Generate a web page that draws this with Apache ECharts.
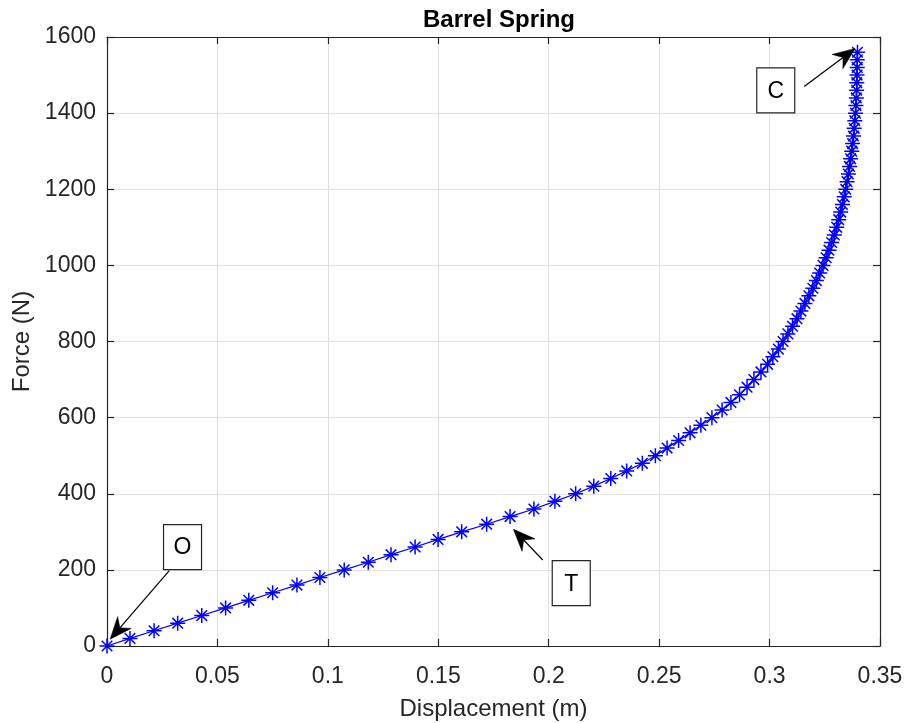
<!DOCTYPE html>
<html><head><meta charset="utf-8">
<script src="https://cdn.jsdelivr.net/npm/echarts@6/dist/echarts.min.js"></script>
<style>html,body{margin:0;padding:0;background:#fff}#c{width:905px;height:723px}</style>
</head><body><div id="c"></div>
<script>
// ---- data ----
const displacement = [
  0.0000, 0.0104, 0.0213, 0.0320, 0.0429, 0.0537, 0.0642, 0.0750, 0.0860, 0.0964,
  0.1074, 0.1183, 0.1286, 0.1395, 0.1499, 0.1606, 0.1719, 0.1825, 0.1933, 0.2028,
  0.2122, 0.2204, 0.2281, 0.2353, 0.2424, 0.2483, 0.2536, 0.2588, 0.2640, 0.2689,
  0.2739, 0.2785, 0.2825, 0.2864, 0.2898, 0.2929, 0.2961, 0.2991, 0.3015, 0.3040,
  0.3061, 0.3083, 0.3104, 0.3124, 0.3142, 0.3160, 0.3178, 0.3196, 0.3212, 0.3227,
  0.3242, 0.3256, 0.3269, 0.3281, 0.3293, 0.3304, 0.3313, 0.3322, 0.3330, 0.3338,
  0.3345, 0.3351, 0.3357, 0.3362, 0.3367, 0.3372, 0.3376, 0.3380, 0.3383, 0.3386,
  0.3389, 0.3391, 0.3393, 0.3394, 0.3395, 0.3396, 0.3397, 0.3397, 0.3398
];
const force = [
  0, 20, 40, 60, 80, 100, 120, 140, 160, 180,
  200, 220, 240, 260, 280, 300, 320, 340, 360, 380,
  400, 420, 440, 460, 480, 500, 520, 540, 560, 580,
  600, 620, 640, 660, 680, 700, 720, 740, 760, 780,
  800, 820, 840, 860, 880, 900, 920, 940, 960, 980,
  1000, 1020, 1040, 1060, 1080, 1100, 1120, 1140, 1160, 1180,
  1200, 1220, 1240, 1260, 1280, 1300, 1320, 1340, 1360, 1380,
  1400, 1420, 1440, 1460, 1480, 1500, 1520, 1540, 1560
];
const xTickValues = [0, 0.05, 0.1, 0.15, 0.2, 0.25, 0.3, 0.35];
const yTickValues = [0, 200, 400, 600, 800, 1000, 1200, 1400, 1600];
const annotLabels = ['O', 'T', 'C'];
const annotBoxCenter = [[0.0342, 260], [0.2102, 165], [0.3028, 1460]];
const annotArrowTail = [[0.0282, 198], [0.1973, 226], [0.3157, 1470]];
const annotArrowHead = [[0.0014, 18], [0.1840, 307], [0.3387, 1570]];

// ---- chart ----
const FONT = '"Liberation Sans", Arial, Helvetica, sans-serif';
const AX = '#262626';
const chart = echarts.init(document.getElementById('c'), null, {renderer: 'canvas'});
const points = displacement.map((d, i) => [d, force[i]]);
const star = 'path://M0,-10L0,10M-10,0L10,0M-7.07,-7.07L7.07,7.07M-7.07,7.07L7.07,-7.07';
const xMin = xTickValues[0], xMax = xTickValues[xTickValues.length - 1];
const yMin = yTickValues[0], yMax = yTickValues[yTickValues.length - 1];
const xInt = xTickValues[1] - xTickValues[0], yInt = yTickValues[1] - yTickValues[0];

const baseX = {
  type: 'value', min: xMin, max: xMax, interval: xInt,
  axisLine: {show: true, onZero: false, lineStyle: {color: AX, width: 1.2}},
  axisTick: {show: true, inside: true, length: 7, lineStyle: {color: AX, width: 1.2}},
  splitLine: {show: false}
};
const baseY = {
  type: 'value', min: yMin, max: yMax, interval: yInt,
  axisLine: {show: true, onZero: false, lineStyle: {color: AX, width: 1.2}},
  axisTick: {show: true, inside: true, length: 7, lineStyle: {color: AX, width: 1.2}},
  splitLine: {show: false}
};

chart.setOption({
  animation: false,
  backgroundColor: '#ffffff',
  title: {
    text: 'Barrel Spring', left: 494, top: 3, textAlign: 'center',
    textStyle: {fontFamily: FONT, fontSize: 24, fontWeight: 'bold', color: '#000'}
  },
  grid: {left: 107, right: 25, top: 37, bottom: 77, containLabel: false, outerBoundsMode: 'none'},
  xAxis: [
    Object.assign({}, baseX, {
      position: 'bottom',
      name: 'Displacement (m)', nameLocation: 'middle', nameGap: 51,
      nameTextStyle: {fontFamily: FONT, fontSize: 24, color: AX},
      axisLabel: {fontFamily: FONT, fontSize: 23, color: AX, margin: 19,
        formatter: v => String(+v.toFixed(2))},
      splitLine: {show: true, lineStyle: {color: '#e0e0e0', width: 1}}
    }),
    Object.assign({}, baseX, {position: 'top', axisLabel: {show: false}})
  ],
  yAxis: [
    Object.assign({}, baseY, {
      position: 'left',
      name: 'Force (N)', nameLocation: 'middle', nameGap: 72,
      nameTextStyle: {fontFamily: FONT, fontSize: 24, color: AX},
      axisLabel: {fontFamily: FONT, fontSize: 23, color: AX, margin: 11,
        formatter: v => String(v)},
      splitLine: {show: true, lineStyle: {color: '#e0e0e0', width: 1}}
    }),
    Object.assign({}, baseY, {position: 'right', axisLabel: {show: false}})
  ],
  series: [{
    type: 'line', data: points, xAxisIndex: 0, yAxisIndex: 0,
    symbol: star, symbolSize: 15, showSymbol: true,
    lineStyle: {color: '#0000ff', width: 1.2},
    itemStyle: {color: '#0000ff', borderColor: '#0000ff', borderWidth: 1.5},
    emphasis: {disabled: true}, z: 3
  }]
});

// ---- annotations (boxes + arrows placed in data coordinates) ----
const BOX_W = 38, BOX_H = 45;
const HEAD_L = 22, HEAD_W = 9, NOTCH = 7;
const els = [];
annotLabels.forEach((lab, i) => {
  const c = chart.convertToPixel({gridIndex: 0}, annotBoxCenter[i]);
  const t = chart.convertToPixel({gridIndex: 0}, annotArrowTail[i]);
  const h = chart.convertToPixel({gridIndex: 0}, annotArrowHead[i]);
  els.push({
    type: 'rect', z: 10,
    shape: {x: c[0] - BOX_W / 2, y: c[1] - BOX_H / 2, width: BOX_W, height: BOX_H},
    style: {fill: '#ffffff', stroke: '#262626', lineWidth: 1.2}
  });
  els.push({
    type: 'text', z: 11, x: c[0], y: c[1] + 1,
    style: {text: lab, fontFamily: FONT, fontSize: 23, fill: '#000',
      align: 'center', verticalAlign: 'middle'}
  });
  const dx = h[0] - t[0], dy = h[1] - t[1];
  const len = Math.hypot(dx, dy);
  const ux = dx / len, uy = dy / len, nx = -uy, ny = ux;
  const bx = h[0] - HEAD_L * ux, by = h[1] - HEAD_L * uy;
  const mx = h[0] - (HEAD_L - NOTCH) * ux, my = h[1] - (HEAD_L - NOTCH) * uy;
  els.push({
    type: 'line', z: 10,
    shape: {x1: t[0], y1: t[1], x2: mx, y2: my},
    style: {stroke: '#000', lineWidth: 1.2}
  });
  els.push({
    type: 'polygon', z: 10,
    shape: {points: [[h[0], h[1]], [bx + HEAD_W * nx, by + HEAD_W * ny], [mx, my], [bx - HEAD_W * nx, by - HEAD_W * ny]]},
    style: {fill: '#000', stroke: '#000', lineWidth: 0.5}
  });
});
chart.setOption({graphic: {elements: els}});
</script>
</body></html>
